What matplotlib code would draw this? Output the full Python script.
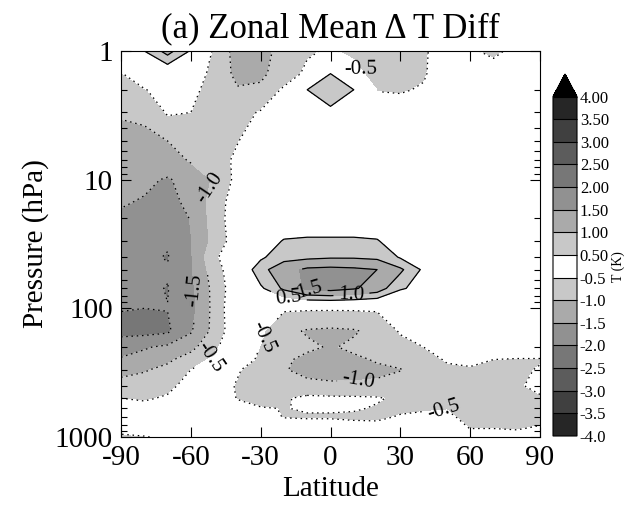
import matplotlib
matplotlib.use('Agg')
import matplotlib.pyplot as plt
import numpy as np
from matplotlib.ticker import FixedLocator, NullFormatter

plt.rcParams['font.family'] = ['Liberation Serif', 'DejaVu Serif']
plt.rcParams['axes.unicode_minus'] = False

# latitude grid (deg) and pressure levels (hPa)
lat = [-90, -80, -70, -60, -50, -40, -30, -20, -10, 0, 10, 20, 30, 40, 50, 60, 70, 80, 90]
pres = [1, 1.5, 2, 3, 5, 7, 10, 15, 20, 30, 40, 50, 70, 100,
        150, 200, 250, 300, 400, 500, 600, 700, 850, 1000]

# zonal mean delta T difference (K), one row per pressure level
dT = [
    [-0.2, 0.5, 1.2, 0.45, -0.6, -1.2, -1.15, -0.85, -0.55, -0.45, -0.6, -0.75, -0.75, -0.55, -0.3, -0.45, -0.58, -0.4, -0.1],
    [-0.52, -0.3, -0.1, -0.3, -0.6, -1.15, -1.1, -0.75, -0.4, 0.5, -0.3, -0.75, -0.75, -0.55, -0.2, -0.2, -0.3, -0.2, -0.1],
    [-0.7, -0.52, -0.35, -0.4, -0.65, -0.95, -0.9, -0.42, 0.5, 0.95, 0.5, -0.52, -0.55, -0.45, -0.1, -0.1, -0.15, -0.1, -0.1],
    [-0.95, -0.9, -0.45, -0.5, -0.75, -0.7, -0.45, -0.2, 0.05, 0.3, 0.05, -0.2, -0.2, -0.15, -0.1, -0.1, -0.1, -0.1, -0.1],
    [-1.2, -1.15, -1.0, -0.85, -0.9, -0.52, -0.25, -0.1, -0.05, 0.0, -0.05, -0.1, -0.1, -0.05, -0.05, -0.05, -0.05, -0.05, -0.05],
    [-1.3, -1.25, -1.2, -0.95, -0.75, -0.4, -0.15, -0.1, -0.05, -0.05, -0.05, -0.05, -0.05, -0.05, -0.05, -0.05, -0.05, -0.05, -0.05],
    [-1.4, -1.4, -1.55, -1.3, -0.95, -0.35, -0.1, -0.05, 0.0, -0.05, -0.05, -0.05, -0.05, -0.05, -0.05, -0.05, -0.05, -0.05, -0.05],
    [-1.45, -1.55, -1.65, -1.38, -0.8, -0.2, -0.05, 0.0, 0.0, 0.0, 0.0, 0.0, -0.05, -0.05, -0.05, -0.05, -0.05, -0.05, -0.05],
    [-1.6, -1.65, -1.75, -1.48, -0.8, -0.15, 0.0, 0.05, 0.1, 0.1, 0.1, 0.05, -0.05, -0.05, -0.05, -0.05, -0.05, -0.05, -0.05],
    [-1.8, -1.85, -1.95, -1.52, -0.85, -0.2, 0.1, 0.55, 0.6, 0.6, 0.6, 0.55, 0.1, 0.0, -0.05, -0.05, -0.05, -0.05, -0.05],
    [-1.85, -1.9, -2.03, -1.55, -0.6, -0.1, 0.4, 0.85, 0.9, 0.95, 0.95, 0.9, 0.45, 0.0, 0.0, -0.05, -0.05, -0.05, -0.05],
    [-1.85, -1.9, -1.95, -1.55, -0.75, -0.1, 0.85, 1.3, 1.6, 1.65, 1.6, 1.5, 1.1, 0.4, 0.0, -0.05, -0.05, -0.05, -0.05],
    [-1.9, -1.9, -2.02, -1.62, -0.85, -0.15, 0.4, 1.1, 1.6, 1.7, 1.55, 1.3, 0.55, 0.35, 0.0, -0.05, -0.05, -0.05, -0.05],
    [-1.98, -2.0, -1.99, -1.68, -0.85, -0.05, -0.1, -0.45, -0.45, -0.45, -0.45, -0.45, -0.25, -0.1, -0.05, -0.05, -0.1, -0.1, -0.1],
    [-2.15, -2.15, -2.08, -1.55, -0.85, -0.1, -0.42, -0.85, -1.05, -1.1, -1.05, -0.85, -0.45, -0.25, -0.1, -0.05, -0.1, -0.1, -0.1],
    [-1.7, -1.55, -1.4, -1.15, -0.6, -0.1, -0.52, -0.8, -0.9, -1.05, -0.9, -0.85, -0.7, -0.5, -0.3, -0.2, -0.25, -0.3, -0.3],
    [-1.45, -1.3, -1.1, -0.75, -0.4, -0.2, -0.6, -0.9, -1.15, -1.2, -1.1, -0.95, -0.85, -0.7, -0.45, -0.4, -0.5, -0.52, -0.52],
    [-1.2, -1.05, -0.85, -0.5, -0.3, -0.45, -0.75, -0.95, -1.2, -1.3, -1.2, -1.1, -1.02, -0.8, -0.6, -0.55, -0.6, -0.55, -0.48],
    [-0.75, -0.7, -0.6, -0.35, -0.2, -0.55, -0.8, -0.85, -0.8, -0.85, -0.9, -0.9, -0.75, -0.7, -0.7, -0.7, -0.7, -0.55, -0.4],
    [-0.5, -0.55, -0.45, -0.3, -0.2, -0.52, -0.75, -0.55, -0.4, -0.42, -0.42, -0.45, -0.6, -0.6, -0.65, -0.7, -0.7, -0.6, -0.55],
    [-0.3, -0.35, -0.3, -0.2, -0.1, -0.35, -0.45, -0.52, -0.45, -0.45, -0.45, -0.55, -0.6, -0.55, -0.52, -0.7, -0.7, -0.65, -0.65],
    [-0.2, -0.2, -0.2, -0.15, -0.1, -0.2, -0.3, -0.52, -0.55, -0.55, -0.6, -0.6, -0.45, -0.4, -0.4, -0.65, -0.65, -0.65, -0.65],
    [-0.3, -0.25, -0.2, -0.15, -0.1, -0.1, -0.1, -0.2, -0.2, -0.2, -0.25, -0.3, -0.2, -0.2, -0.2, -0.52, -0.52, -0.55, -0.45],
    [-0.6, -0.53, -0.4, -0.2, -0.1, -0.1, -0.1, -0.1, -0.1, -0.1, -0.1, -0.1, -0.1, -0.1, -0.1, -0.2, -0.2, -0.3, -0.3],
]

levels = [-4.0, -3.5, -3.0, -2.5, -2.0, -1.5, -1.0, -0.5,
          0.5, 1.0, 1.5, 2.0, 2.5, 3.0, 3.5, 4.0]
greys = ['#262626', '#404040', '#5c5c5c', '#777777', '#919191', '#aaaaaa', '#c8c8c8', '#ffffff',
         '#c8c8c8', '#aaaaaa', '#919191', '#777777', '#5c5c5c', '#404040', '#262626', '#000000']
cb_labels = ['-4.0', '-3.5', '-3.0', '-2.5', '-2.0', '-1.5', '-1.0', '-0.5',
             '0.50', '1.00', '1.50', '2.00', '2.50', '3.00', '3.50', '4.00']
line_levels = [-2.5, -2.0, -1.5, -1.0, -0.5, 0.5, 1.0, 1.5]
# where the contour labels sit (lat, hPa)
label_pos = [(13, 1.6), (-51.8, 15.7), (-58, 72), (-50.5, 243), (-23.9, 177),
             (-9, 72), (-18, 88), (9, 80), (11.8, 360), (46, 565)]

fig = plt.figure(figsize=(6.27, 5.05), dpi=100)
ax = fig.add_axes([121/627, 1-437/505, 419/627, 386/505])

cf = ax.contourf(lat, pres, dT, levels=levels, colors=greys, extend='max')
dots = (0, (1.2, 3.0))
styles = [dots if v < 0 else 'solid' for v in line_levels]
cs = ax.contour(lat, pres, dT, levels=line_levels, colors='k', linewidths=0.9, linestyles=styles)
ax.clabel(cs, fmt='%.1f', fontsize=15, inline=True, manual=label_pos)

ax.set_yscale('log')
ax.set_ylim(1000, 1)
ax.set_xlim(-90, 90)
ax.set_xticks([-90, -60, -30, 0, 30, 60, 90])
ax.yaxis.set_major_locator(FixedLocator([1, 10, 100, 1000]))
ax.set_yticklabels(['1', '10', '100', '1000'])
ax.yaxis.set_minor_locator(FixedLocator([m * d for d in [1, 10, 100] for m in range(2, 10)]))
ax.yaxis.set_minor_formatter(NullFormatter())
ax.tick_params(which='both', direction='in', top=True, right=True, labelsize=21, width=0.8)
ax.tick_params(which='major', length=7, pad=6)
ax.tick_params(which='minor', length=4)
ax.set_xlabel('Latitude', fontsize=21, labelpad=3)
ax.set_ylabel('Pressure (hPa)', fontsize=21, labelpad=4)
ax.set_title('(a) Zonal Mean \u0394 T Diff', fontsize=25, pad=10)

cax = fig.add_axes([553/627, 1-436/505, 24/627, 362/505])
cb = fig.colorbar(cf, cax=cax, extendfrac=24/362, drawedges=True, ticks=levels)
cb.set_ticklabels(cb_labels)
cb.ax.tick_params(length=0, labelsize=12, pad=2)
cb.outline.set_linewidth(0.8)
cb.dividers.set_linewidth(0.8)
cb.set_label('T (K)', fontsize=10, labelpad=2)

fig.savefig('out.png', dpi=100)
